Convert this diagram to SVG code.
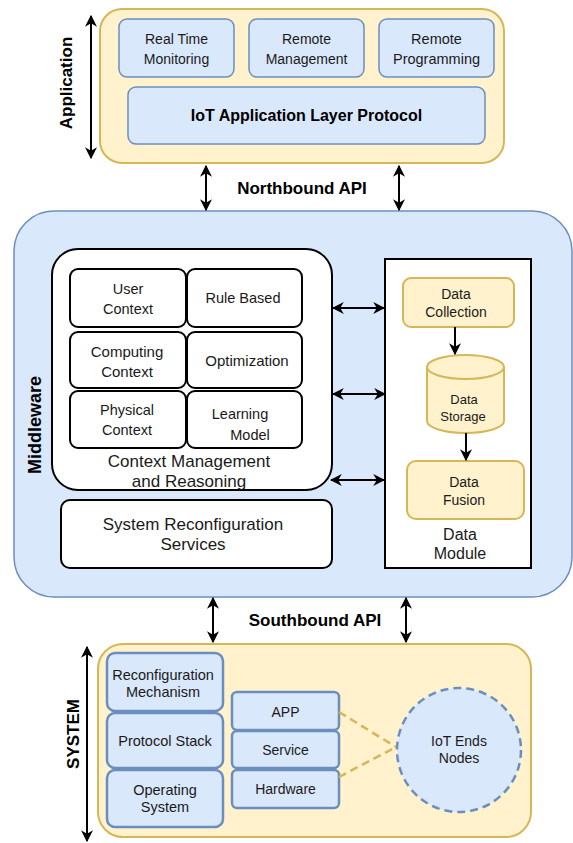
<svg xmlns="http://www.w3.org/2000/svg" width="573" height="843" viewBox="0 0 573 843">
<defs>
<marker id="ah" viewBox="0 0 10 10" refX="9" refY="5" markerWidth="6" markerHeight="6" orient="auto-start-reverse" markerUnits="strokeWidth">
<path d="M0,0 L10,5 L0,10 L3,5 Z" fill="#000"/>
</marker>
<style>
text{font-family:"Liberation Sans",Arial,sans-serif;font-size:14px;fill:#1a1a1a;text-anchor:middle}
.b{font-weight:bold;fill:#000}
.f13{font-size:13px}
.f145{font-size:14.5px}
.f15{font-size:15px}
.f16{font-size:16px}
.f17{font-size:17px}
.f18{font-size:18px}
.y{fill:#fff2cc;stroke:#d6b656;stroke-width:2}
.bl{fill:#dae8fc;stroke:#6c8ebf;stroke-width:1.5}
.bl2{fill:#dae8fc;stroke:#6c8ebf;stroke-width:2.5}
.w{fill:#fff;stroke:#000;stroke-width:2}
.c{stroke:#000;stroke-width:2;fill:none;marker-start:url(#ah);marker-end:url(#ah)}
.a{stroke:#000;stroke-width:2;fill:none;marker-end:url(#ah)}
</style>
</defs>

<g id="application-layer">
<rect x="100" y="9" width="404" height="154" rx="22" class="y" stroke-width="2.5"/>
<text class="b f17" transform="translate(72,83) rotate(-90)">Application</text>
</g>
<g id="real-time-monitoring"><rect x="119" y="19" width="115" height="58" rx="8" class="bl"/><text x="176.5" y="44">Real Time</text><text x="176.5" y="64">Monitoring</text></g>
<g id="remote-management"><rect x="249" y="19" width="115" height="58" rx="8" class="bl"/><text x="306.5" y="44">Remote</text><text x="306.5" y="64">Management</text></g>
<g id="remote-programming"><rect x="379" y="19" width="115" height="58" rx="8" class="bl"/><text x="436.5" y="44" class="f145">Remote</text><text x="436.5" y="64" class="f145">Programming</text></g>
<g id="iot-app-protocol"><rect x="128" y="87" width="357" height="57" rx="8" class="bl"/><text class="b f16" x="306.5" y="121">IoT Application Layer Protocol</text></g>

<g id="middleware">
<rect x="14" y="211" width="558" height="386" rx="40" class="bl" stroke-width="1.5"/>
<text class="b f18" transform="translate(41,425) rotate(-90)">Middleware</text>
</g>
<g id="context-management"><rect x="52" y="249" width="280" height="241" rx="26" class="w"/><text x="189" y="467" class="f17">Context Management</text><text x="189" y="487" class="f17">and Reasoning</text></g>
<g id="user-context"><rect x="70" y="269" width="116" height="58" rx="8" class="w"/><text x="128" y="294" class="f145">User</text><text x="128" y="314" class="f145">Context</text></g>
<g id="rule-based"><rect x="187" y="269" width="115" height="58" rx="8" class="w"/><text x="243" y="303" class="f145">Rule Based</text></g>
<g id="computing-context"><rect x="70" y="332" width="116" height="56" rx="8" class="w"/><text x="127" y="357" class="f15">Computing</text><text x="127" y="377" class="f15">Context</text></g>
<g id="optimization"><rect x="187" y="332" width="115" height="56" rx="8" class="w"/><text x="247" y="366" class="f15">Optimization</text></g>
<g id="physical-context"><rect x="70" y="391" width="116" height="57" rx="8" class="w"/><text x="127" y="415" class="f145">Physical</text><text x="127" y="435" class="f145">Context</text></g>
<g id="learning-model"><rect x="187" y="391" width="115" height="57" rx="8" class="w"/><text x="240" y="419" class="f145">Learning</text><text x="250" y="440" class="f145">Model</text></g>
<g id="system-reconfiguration"><rect x="61" y="500" width="271" height="68" rx="9" class="w"/><text x="193" y="530" class="f17">System Reconfiguration</text><text x="193" y="550" class="f17">Services</text></g>

<g id="data-module"><rect x="385" y="259" width="146" height="309" class="w" stroke-width="2.5"/><text x="460" y="540" class="f16">Data</text><text x="460" y="559" class="f16">Module</text></g>
<g id="data-collection"><rect x="403" y="278" width="111" height="49" rx="8" class="y"/><text x="456" y="299">Data</text><text x="456" y="317">Collection</text></g>
<g id="data-storage">
<path d="M427,367 L427,421 A38.5,12 0 0 0 504,421 L504,367 A38.5,12 0 0 0 427,367 Z" class="y"/>
<path d="M427,367 A38.5,12 0 0 0 504,367" fill="none" stroke="#d6b656" stroke-width="2"/>
<text x="464" y="404" class="f13">Data</text><text x="463" y="421" class="f13">Storage</text>
</g>
<g id="data-fusion"><rect x="407" y="461" width="117" height="58" rx="9" class="y"/><text x="464" y="487">Data</text><text x="464" y="505">Fusion</text></g>

<g id="system-layer">
<rect x="98" y="644" width="433" height="193" rx="25" class="y" stroke-width="2.5"/>
<text class="b f17" transform="translate(79,734) rotate(-90)">SYSTEM</text>
</g>
<g id="reconfiguration-mechanism"><rect x="107" y="653" width="116" height="58" rx="8" class="bl2"/><text x="163" y="680" class="f145">Reconfiguration</text><text x="163" y="697" class="f145">Mechanism</text></g>
<g id="protocol-stack"><rect x="107" y="713" width="116" height="55" rx="8" class="bl2"/><text x="165" y="746" class="f145">Protocol Stack</text></g>
<g id="operating-system"><rect x="107" y="770" width="116" height="57" rx="8" class="bl2"/><text x="165" y="795" class="f145">Operating</text><text x="165" y="812" class="f145">System</text></g>
<g id="app"><rect x="232" y="692" width="107" height="38" rx="5" class="bl2"/><text x="285.5" y="717">APP</text></g>
<g id="service"><rect x="232" y="731" width="107" height="37" rx="5" class="bl2"/><text x="285.5" y="755">Service</text></g>
<g id="hardware"><rect x="232" y="770" width="107" height="38" rx="5" class="bl2"/><text x="285.5" y="794">Hardware</text></g>
<g id="iot-end-nodes"><circle cx="459" cy="750" r="62" fill="#dae8fc" stroke="#6c8ebf" stroke-width="2.5" stroke-dasharray="8,5"/><text x="459" y="746">IoT Ends</text><text x="459" y="763">Nodes</text></g>

<g id="connectors">
<line x1="91" y1="16" x2="91" y2="158" class="c"/>
<line x1="206" y1="166" x2="206" y2="210" class="c"/>
<line x1="399" y1="166" x2="399" y2="210" class="c"/>
<text class="b f17" x="302" y="194">Northbound API</text>
<line x1="333" y1="308" x2="384" y2="308" class="c"/>
<line x1="333" y1="394" x2="385" y2="394" class="c"/>
<line x1="331" y1="480" x2="384" y2="480" class="c"/>
<line x1="455" y1="327" x2="455" y2="354" class="a"/>
<line x1="466" y1="433" x2="466" y2="460" class="a"/>
<line x1="213" y1="598" x2="213" y2="642" class="c"/>
<line x1="406" y1="598" x2="406" y2="642" class="c"/>
<text class="b f17" x="315" y="626">Southbound API</text>
<line x1="87" y1="647" x2="87" y2="841" class="c"/>
<path d="M339,712 L396,747 M339,777 L396,747" stroke="#d6b656" stroke-width="2.5" stroke-dasharray="8,5" fill="none"/>
</g>
</svg>
